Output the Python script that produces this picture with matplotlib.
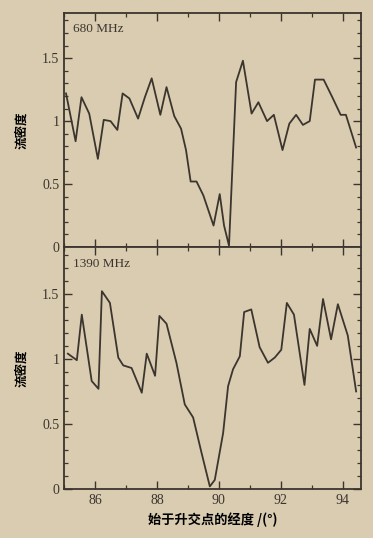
import numpy as np
import matplotlib.pyplot as plt
from matplotlib.ticker import MultipleLocator

# 680 MHz
x680 = [85.06, 85.37, 85.56, 85.81, 86.09, 86.28, 86.5, 86.72, 86.89, 87.11,
        87.39, 87.61, 87.83, 88.11, 88.31, 88.56, 88.78, 88.94, 89.09, 89.28,
        89.5, 89.83, 90.03, 90.17, 90.33, 90.56, 90.78, 91.06, 91.28, 91.56,
        91.78, 92.06, 92.28, 92.5, 92.72, 92.94, 93.11, 93.39, 93.67, 93.94,
        94.11, 94.44]
y680 = [1.22, 0.84, 1.19, 1.06, 0.70, 1.01, 1.0, 0.93, 1.22, 1.18,
        1.02, 1.19, 1.34, 1.05, 1.27, 1.04, 0.94, 0.77, 0.52, 0.52,
        0.41, 0.17, 0.42, 0.17, 0.01, 1.31, 1.48, 1.06, 1.15, 1.0,
        1.05, 0.77, 0.98, 1.05, 0.97, 1.0, 1.33, 1.33, 1.19, 1.05,
        1.05, 0.79]

# 1390 MHz
x1390 = [85.12, 85.41, 85.57, 85.89, 86.11, 86.22, 86.48, 86.75, 86.91, 87.18,
         87.51, 87.67, 87.94, 88.08, 88.31, 88.63, 88.9, 89.17, 89.44, 89.71,
         89.87, 90.14, 90.3, 90.46, 90.68, 90.82, 91.05, 91.32, 91.59, 91.81,
         92.02, 92.2, 92.43, 92.77, 92.94, 93.18, 93.37, 93.63, 93.85, 94.17,
         94.44]
y1390 = [1.04, 0.99, 1.34, 0.83, 0.77, 1.52, 1.43, 1.01, 0.95, 0.93,
         0.74, 1.04, 0.87, 1.33, 1.27, 0.97, 0.65, 0.55, 0.28, 0.02,
         0.07, 0.43, 0.79, 0.92, 1.02, 1.36, 1.38, 1.09, 0.97, 1.01,
         1.07, 1.43, 1.34, 0.80, 1.23, 1.10, 1.46, 1.15, 1.42, 1.18,
         0.75]

xticks = [86, 88, 90, 92, 94]
yticks = [0, 0.5, 1, 1.5]
ytick_labels = ['0', '0.5', '1', '1.5']

paper = '#d9ccb1'
ink = '#3b352e'

plt.rcParams['font.family'] = ['Liberation Serif', 'Noto Sans CJK SC']
plt.rcParams['text.color'] = ink
plt.rcParams['axes.edgecolor'] = ink
plt.rcParams['xtick.color'] = ink
plt.rcParams['ytick.color'] = ink

fig = plt.figure(figsize=(3.73, 5.38), dpi=100, facecolor=paper)
ax1 = fig.add_axes([0.172, 0.541, 0.796, 0.435])
ax2 = fig.add_axes([0.172, 0.091, 0.796, 0.450], sharex=ax1)

for ax, xs, ys, lab in [(ax1, x680, y680, '680 MHz'), (ax2, x1390, y1390, '1390 MHz')]:
    ax.set_facecolor(paper)
    ax.plot(xs, ys, color=ink, lw=1.3)
    ax.set_xlim(85.0, 94.6)
    ax.set_ylim(0, 1.86)
    ax.set_yticks(yticks)
    ax.set_yticklabels(ytick_labels)
    ax.set_xticks(xticks)
    ax.xaxis.set_minor_locator(MultipleLocator(1))
    ax.yaxis.set_minor_locator(MultipleLocator(0.1))
    ax.tick_params(which='both', direction='in', top=True, right=True, labelsize=10)
    ax.tick_params(which='major', length=6, width=1)
    ax.tick_params(which='minor', length=3, width=0.9)
    for s in ax.spines.values():
        s.set_linewidth(1.3)
    ax.text(0.03, 0.955, lab, transform=ax.transAxes, fontsize=9.5, va='top')
    ax.set_ylabel('流密度', family='Noto Sans CJK SC', fontsize=9, fontweight='bold', labelpad=10)

ax1.tick_params(axis='x', labelbottom=False)
ax2.set_xlabel('始于升交点的经度 /(°)', family=['Noto Sans CJK SC', 'DejaVu Sans'],
               fontsize=9.5, fontweight='bold', labelpad=4)

fig.savefig('out.png', dpi=100, facecolor=paper)
